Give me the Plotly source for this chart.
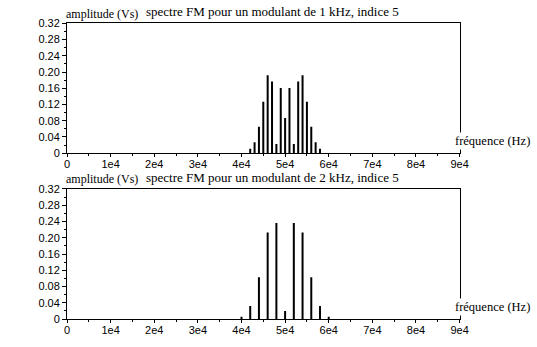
import plotly.graph_objects as go

# ---- data ----
freq_top = [42000, 43000, 44000, 45000, 46000, 47000, 48000, 49000, 50000,
            51000, 52000, 53000, 54000, 55000, 56000, 57000, 58000]
amp_top = [0.011, 0.027, 0.065, 0.127, 0.192, 0.177, 0.023, 0.161, 0.087,
           0.161, 0.023, 0.177, 0.192, 0.127, 0.065, 0.027, 0.011]

freq_bot = [40000, 42000, 44000, 46000, 48000, 50000, 52000, 54000, 56000, 58000, 60000]
amp_bot = [0.006, 0.032, 0.103, 0.213, 0.236, 0.020, 0.236, 0.213, 0.103, 0.032, 0.006]

x_tickvals = [0, 10000, 20000, 30000, 40000, 50000, 60000, 70000, 80000, 90000]
x_ticktext = ["0", "1e4", "2e4", "3e4", "4e4", "5e4", "6e4", "7e4", "8e4", "9e4"]
y_tickvals = [0, 0.04, 0.08, 0.12, 0.16, 0.20, 0.24, 0.28, 0.32]
y_ticktext = ["0", "0.04", "0.08", "0.12", "0.16", "0.20", "0.24", "0.28", "0.32"]

title_top = "spectre FM pour un modulant de 1 kHz, indice 5"
title_bot = "spectre FM pour un modulant de 2 kHz, indice 5"
ylabel = "amplitude (Vs)"
xlabel = "fréquence (Hz)"

W, H = 537, 347


def stems(xs, ys):
    sx, sy = [], []
    for x, y in zip(xs, ys):
        sx += [x, x, None]
        sy += [0, y, None]
    return sx, sy


fig = go.Figure()
tx, ty = stems(freq_top, amp_top)
bx, by = stems(freq_bot, amp_bot)
fig.add_trace(go.Scatter(x=tx, y=ty, mode="lines", line=dict(color="black", width=2),
                         xaxis="x", yaxis="y", showlegend=False, hoverinfo="skip"))
fig.add_trace(go.Scatter(x=bx, y=by, mode="lines", line=dict(color="black", width=2),
                         xaxis="x2", yaxis="y2", showlegend=False, hoverinfo="skip"))

x_left, x_right = 65.5, 467
top_y0, top_y1 = 18, 152.5
bot_y0, bot_y1 = 189.5, 324.3


def px_x(p):
    return p / W


def px_y(p):
    return 1 - p / H


tick_font = dict(family="Liberation Sans", size=11, color="black")
xaxis_common = dict(range=[0, 90000], tickmode="array", tickvals=x_tickvals, ticktext=x_ticktext,
                    showgrid=False, zeroline=False, showline=True, linecolor="black", linewidth=1,
                    mirror=True, ticks="outside", ticklen=3, tickcolor="black",
                    ticklabelstandoff=-2,
                    minor=dict(tickmode="linear", tick0=0, dtick=5000, ticks="outside", ticklen=2,
                               tickcolor="black"),
                    tickfont=tick_font, fixedrange=True)
xaxis_inner = dict(range=[0, 90000], tickmode="array", tickvals=x_tickvals,
                   showgrid=False, zeroline=False, showline=False, showticklabels=False,
                   ticks="inside", ticklen=2, tickcolor="black", fixedrange=True)
yaxis_common = dict(range=[0, 0.32], tickmode="array", tickvals=y_tickvals, ticktext=y_ticktext,
                    showgrid=False, zeroline=False, showline=True, linecolor="black", linewidth=1,
                    mirror=True, ticks="outside", ticklen=4, tickcolor="black",
                    minor=dict(tickmode="linear", tick0=0, dtick=0.02, ticks="outside", ticklen=2,
                               tickcolor="black"),
                    tickfont=tick_font, fixedrange=True)

xdom = [px_x(x_left), px_x(x_right)]
fig.update_layout(
    width=W, height=H, margin=dict(l=0, r=0, t=0, b=0),
    paper_bgcolor="white", plot_bgcolor="white",
    xaxis=dict(domain=xdom, anchor="y", **xaxis_common),
    yaxis=dict(domain=[px_y(top_y1), px_y(top_y0)], anchor="x", **yaxis_common),
    xaxis2=dict(domain=xdom, anchor="y2", **xaxis_common),
    yaxis2=dict(domain=[px_y(bot_y1), px_y(bot_y0)], anchor="x2", **yaxis_common),
    xaxis3=dict(domain=xdom, anchor="y", overlaying="x", **xaxis_inner),
    xaxis4=dict(domain=xdom, anchor="y2", overlaying="x2", **xaxis_inner),
)

serif12 = dict(family="Liberation Serif", size=12, color="black")
serif13 = dict(family="Liberation Serif", size=13, color="black")
serif125 = dict(family="Liberation Serif", size=12.5, color="black")
ann = []
for (y0, y1, title) in [(top_y0, top_y1, title_top), (bot_y0, bot_y1, title_bot)]:
    ann.append(dict(text=ylabel, x=px_x(62.5), y=px_y(y0 - 0.5), xref="paper", yref="paper",
                    xanchor="left", yanchor="bottom", showarrow=False, font=serif12))
    ann.append(dict(text=title, x=px_x(144), y=px_y(y0 - 2.5), xref="paper", yref="paper",
                    xanchor="left", yanchor="bottom", showarrow=False, font=serif13))
    ann.append(dict(text=xlabel, x=px_x(460.5), y=px_y(y1 - 3), xref="paper", yref="paper",
                    xanchor="left", yanchor="bottom", showarrow=False, font=serif125,
                    bgcolor="white"))
fig.update_layout(annotations=ann)

fig.write_html("out.html")
